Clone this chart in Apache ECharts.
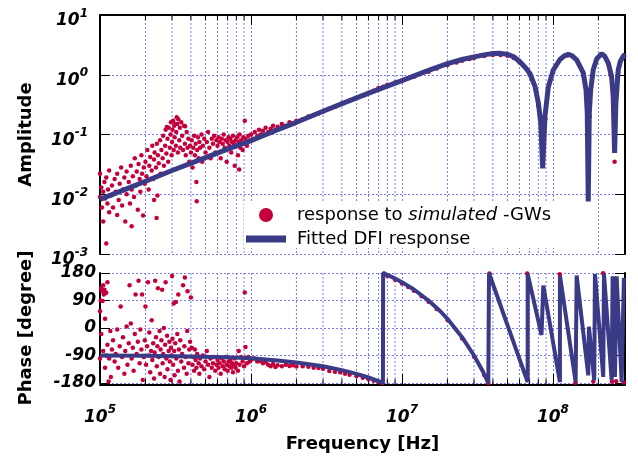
<!DOCTYPE html>
<html>
<head>
<meta charset="utf-8">
<script src="https://cdn.jsdelivr.net/npm/echarts/dist/echarts.min.js"></script>
<style>
html,body{margin:0;padding:0;background:#fff;}
#chart{width:638px;height:457px;}
</style>
</head>
<body>
<div id="chart"></div>
<script>
// ---------------- data ----------------
const legendNames = ['response to simulated -GWs', 'Fitted DFI response'];
const xTickFreqs = [1e5, 1e6, 1e7, 1e8];
const minorFreqs = [2e5,3e5,4e5,5e5,6e5,7e5,8e5,9e5,2e6,3e6,4e6,5e6,6e6,7e6,8e6,9e6,2e7,3e7,4e7,5e7,6e7,7e7,8e7,9e7,2e8];
const phaseTicks = [-180, -90, 0, 90, 180];

// measured amplitude (red dots)
const ampDots = [
[1.0e5,0.022],[1.0e5,0.009],[1.02e5,0.013],[1.03e5,0.006],[1.05e5,0.0035],[1.05e5,0.011],[1.07e5,0.016],[1.08e5,0.0085],[1.1e5,0.0015],[1.1e5,0.019],[1.12e5,0.007],[1.13e5,0.012],[1.15e5,0.025],[1.15e5,0.005],[1.18e5,0.0095],[1.2e5,0.014],
[1.22e5,0.006],[1.25e5,0.018],[1.27e5,0.011],[1.3e5,0.0045],[1.3e5,0.022],[1.33e5,0.008],[1.35e5,0.015],[1.38e5,0.028],[1.4e5,0.0065],[1.42e5,0.012],[1.45e5,0.019],[1.47e5,0.0035],[1.5e5,0.024],[1.5e5,0.01],
[1.55e5,0.016],[1.58e5,0.007],[1.6e5,0.03],[1.62e5,0.0029],[1.62e5,0.012],[1.65e5,0.02],[1.68e5,0.009],[1.7e5,0.04],[1.72e5,0.014],[1.75e5,0.024],[1.78e5,0.0055],[1.8e5,0.032],[1.83e5,0.018],[1.85e5,0.011],[1.88e5,0.045],[1.9e5,0.022],[1.93e5,0.0044],[1.95e5,0.028],[1.98e5,0.015],
[2.0e5,0.035],[2.03e5,0.02],[2.06e5,0.055],[2.1e5,0.012],[2.12e5,0.03],[2.15e5,0.042],[2.2e5,0.025],[2.22e5,0.065],[2.25e5,0.018],[2.28e5,0.008],[2.28e5,0.038],[2.3e5,0.05],[2.35e5,0.028],[2.37e5,0.004],[2.38e5,0.07],[2.4e5,0.0095],[2.42e5,0.045],[2.45e5,0.033],[2.5e5,0.08],[2.52e5,0.022],[2.55e5,0.055],[2.6e5,0.04],[2.62e5,0.095],[2.65e5,0.03],[2.7e5,0.065],[2.72e5,0.12],[2.75e5,0.048],[2.77e5,0.134],[2.8e5,0.085],[2.83e5,0.035],[2.85e5,0.13],[2.9e5,0.06],[2.93e5,0.1],[2.95e5,0.16],[2.98e5,0.045],
[3.0e5,0.075],[3.02e5,0.12],[3.05e5,0.17],[3.08e5,0.055],[3.1e5,0.14],[3.12e5,0.09],[3.15e5,0.15],[3.18e5,0.065],[3.22e5,0.194],[3.2e5,0.11],[3.25e5,0.15],[3.28e5,0.05],[3.3e5,0.18],[3.35e5,0.08],[3.38e5,0.13],[3.4e5,0.06],[3.45e5,0.16],[3.5e5,0.095],[3.55e5,0.055],[3.6e5,0.14],[3.66e5,0.137],[3.65e5,0.07],[3.7e5,0.045],[3.75e5,0.11],[3.8e5,0.06],[3.85e5,0.085],[3.9e5,0.035],[3.95e5,0.065],
[4.0e5,0.05],[4.05e5,0.08],[4.1e5,0.028],[4.15e5,0.06],[4.2e5,0.095],[4.25e5,0.045],[4.3e5,0.07],[4.35e5,0.016],[4.37e5,0.0076],[4.4e5,0.055],[4.45e5,0.09],[4.5e5,0.04],[4.55e5,0.075],[4.6e5,0.06],[4.7e5,0.1],[4.75e5,0.035],[4.8e5,0.065],[4.9e5,0.085],[5.0e5,0.05],[5.1e5,0.075],[5.2e5,0.11],[5.3e5,0.06],[5.4e5,0.04],[5.5e5,0.085],[5.6e5,0.07],[5.7e5,0.095],[5.8e5,0.05],[5.9e5,0.08],
[6.0e5,0.065],[6.1e5,0.09],[6.2e5,0.075],[6.3e5,0.04],[6.4e5,0.085],[6.5e5,0.07],[6.6e5,0.1],[6.7e5,0.06],[6.8e5,0.08],[6.9e5,0.035],[7.0e5,0.075],[7.1e5,0.09],[7.2e5,0.065],[7.3e5,0.085],[7.4e5,0.05],[7.5e5,0.075],[7.6e5,0.095],[7.7e5,0.07],[7.8e5,0.03],[7.9e5,0.08],[8.0e5,0.065],[8.1e5,0.09],[8.2e5,0.045],[8.3e5,0.075],[8.35e5,0.026],[8.4e5,0.1],[8.5e5,0.06],[8.6e5,0.08],[8.8e5,0.055],[8.9e5,0.09],[9.1e5,0.17],[9.0e5,0.07],[9.2e5,0.085],[9.4e5,0.065],[9.6e5,0.095],[9.8e5,0.08],
[1.0e6,0.1],[1.03e6,0.085],[1.06e6,0.11],[1.1e6,0.095],[1.13e6,0.12],[1.16e6,0.1],[1.2e6,0.115],[1.25e6,0.13],[1.3e6,0.11],[1.35e6,0.125],[1.4e6,0.14],[1.45e6,0.12],[1.5e6,0.135],[1.6e6,0.15],[1.7e6,0.14],[1.8e6,0.16],[1.9e6,0.155],[2.0e6,0.17],[2.2e6,0.18],[2.4e6,0.2],[2.6e6,0.21],[2.8e6,0.225],[3.0e6,0.24],
[3.3e6,0.27],[3.6e6,0.29],[4.0e6,0.33],[4.5e6,0.37],[5.0e6,0.41],[5.5e6,0.45],[6.0e6,0.5],[6.5e6,0.54],[7.0e6,0.6],[7.5e6,0.63],[8.0e6,0.68],[9.0e6,0.74],[1.0e7,0.8],
[1.2e7,0.93],[1.5e7,1.12],[1.7e7,1.27],[2.0e7,1.45],[2.3e7,1.6],[2.5e7,1.72],[2.8e7,1.83],[3.0e7,1.9],[3.5e7,2.05],[4.0e7,2.15],[4.5e7,2.15],[5.0e7,2.08],[5.5e7,1.9],[6.0e7,1.6],[7.0e7,1.0],[8.0e7,0.3],[8.9e7,0.18],[1.0e8,1.1],[1.25e8,2.1],[1.6e8,0.95],[1.75e8,0.2],[2.1e8,2.2],[2.4e8,1.0],[2.56e8,0.035],[2.7e8,1.1],[2.95e8,2.1]
];

// fitted amplitude (blue line)
const ampFit = [
[1e5,0.0082],[1.5e5,0.0123],[2e5,0.0165],[3e5,0.025],[5e5,0.041],[7e5,0.057],[1e6,0.079],[1.5e6,0.12],[2e6,0.16],[3e6,0.245],[5e6,0.41],[7e6,0.57],[1e7,0.8],[1.5e7,1.18],[2e7,1.53],[2.5e7,1.8],[3e7,1.99],[3.5e7,2.15],[4e7,2.26],[4.5e7,2.28],[5e7,2.2],[5.5e7,2.0],[6.04e7,1.65],[6.6e7,1.3],[7.04e7,1.05],[7.6e7,0.64],[8.0e7,0.34],[8.3e7,0.158],[8.55e7,0.027],[8.85e7,0.2],[9.31e7,0.62],[1.005e8,1.2],[1.112e8,1.8],[1.2e8,2.1],[1.262e8,2.2],[1.33e8,2.1],[1.435e8,1.78],[1.588e8,1.07],[1.655e8,0.56],[1.687e8,0.23],[1.713e8,0.0076],[1.74e8,0.23],[1.778e8,0.56],[1.849e8,1.21],[1.95e8,1.85],[2.10e8,2.25],[2.2e8,2.05],[2.325e8,1.57],[2.445e8,0.94],[2.505e8,0.43],[2.56e8,0.049],[2.61e8,0.33],[2.705e8,1.21],[2.8e8,1.7],[2.92e8,2.03],[3.0e8,2.2]
];

// measured phase (red dots)
const phaseDots = [
[1.0e5,55],[1.0e5,-100],[1.01e5,90],[1.02e5,130],[1.02e5,-20],[1.03e5,120],[1.04e5,88],[1.05e5,140],[1.05e5,-75],[1.06e5,110],[1.07e5,125],[1.08e5,30],[1.08e5,-130],[1.1e5,115],[1.1e5,-90],[1.12e5,150],[1.12e5,-55],[1.14e5,-175],[1.15e5,-100],[1.17e5,-10],[1.18e5,-160],[1.2e5,-70],
[1.22e5,-40],[1.25e5,-110],[1.27e5,-85],[1.3e5,-5],[1.32e5,-130],[1.35e5,-60],[1.37e5,70],[1.4e5,-95],[1.42e5,-30],[1.45e5,-150],[1.47e5,-75],[1.5e5,5],[1.52e5,-120],[1.55e5,-50],[1.57e5,140],[1.6e5,15],[1.62e5,-100],[1.65e5,-65],[1.67e5,-140],[1.7e5,-20],[1.72e5,110],[1.75e5,-85],[1.78e5,-45],[1.8e5,155],[1.83e5,-115],[1.85e5,-5],[1.88e5,-70],[1.9e5,110],[1.92e5,-170],[1.95e5,-95],[1.98e5,-40],
[2.0e5,70],[2.02e5,-120],[2.05e5,-60],[2.08e5,150],[2.1e5,-90],[2.12e5,-15],[2.15e5,-145],[2.18e5,-75],[2.2e5,25],[2.22e5,-105],[2.25e5,-50],[2.28e5,-165],[2.3e5,-80],[2.32e5,155],[2.35e5,-30],[2.38e5,-125],[2.4e5,-60],[2.42e5,130],[2.45e5,-95],[2.48e5,-10],[2.5e5,-150],[2.52e5,-70],[2.55e5,-40],[2.58e5,125],[2.6e5,-115],[2.62e5,-85],[2.65e5,0],[2.68e5,-160],[2.7e5,-55],[2.72e5,150],[2.75e5,-100],[2.78e5,-25],[2.8e5,-135],[2.85e5,-75],[2.88e5,-45],[2.9e5,-110],[2.93e5,-170],[2.95e5,-65],[2.98e5,-90],
[3.0e5,170],[3.02e5,-35],[3.05e5,-120],[3.08e5,80],[3.1e5,-75],[3.12e5,-155],[3.15e5,-50],[3.18e5,85],[3.2e5,-100],[3.25e5,-20],[3.28e5,-140],[3.3e5,110],[3.33e5,-70],[3.36e5,-175],[3.4e5,-40],[3.45e5,-110],[3.5e5,-85],[3.55e5,140],[3.6e5,-130],[3.62e5,-60],[3.65e5,165],[3.7e5,-95],[3.75e5,-150],[3.78e5,-10],[3.8e5,120],[3.85e5,-115],[3.9e5,-70],[3.95e5,-45],[4.0e5,100],
[4.05e5,-65],[4.1e5,-120],[4.15e5,-95],[4.2e5,-140],[4.25e5,-70],[4.3e5,-105],[4.35e5,-130],[4.4e5,-85],[4.5e5,-115],[4.55e5,-150],[4.6e5,-100],[4.7e5,-125],[4.8e5,-90],[4.9e5,-135],[5.0e5,-110],[5.1e5,-75],[5.2e5,-120],[5.3e5,-160],[5.4e5,-100],[5.5e5,-130],[5.6e5,-115],[5.7e5,-95],[5.8e5,-140],[5.9e5,-120],[6.0e5,-105],[6.1e5,-130],[6.2e5,-115],[6.3e5,-150],[6.4e5,-100],[6.5e5,-125],[6.6e5,-110],[6.7e5,-135],[6.8e5,-95],[6.9e5,-120],[7.0e5,-140],[7.1e5,-110],[7.2e5,-125],[7.3e5,-105],[7.4e5,-130],[7.5e5,-115],[7.6e5,-145],[7.7e5,-120],[7.8e5,-100],[7.9e5,-130],[8.0e5,-115],[8.2e5,-140],[8.3e5,-75],[8.4e5,-120],[9.1e5,116],[8.6e5,-95],[8.8e5,-110],[9.0e5,-125],[9.2e5,-62],[9.4e5,-115],[9.6e5,-95],[9.8e5,-110],
[1.0e6,-105],[1.05e6,-100],[1.1e6,-110],[1.15e6,-108],[1.2e6,-115],[1.25e6,-112],[1.3e6,-120],[1.35e6,-125],[1.4e6,-118],[1.45e6,-128],[1.5e6,-122],[1.6e6,-125],[1.7e6,-120],[1.8e6,-124],[1.9e6,-122],[2.0e6,-126],[2.2e6,-125],[2.4e6,-127],[2.6e6,-130],[2.8e6,-131],[3.0e6,-133],[3.3e6,-141],[3.6e6,-143],[3.9e6,-145],[4.2e6,-150],[4.5e6,-153],[5.0e6,-158],[5.5e6,-163],[6.0e6,-168],[6.5e6,-173],[7.0e6,-177],[7.4e6,-180],
[7.6e6,178],[8.0e6,170],[9.0e6,158],[1.0e7,146],[1.1e7,134],[1.2e7,122],[1.35e7,104],[1.5e7,86],[1.7e7,62],[2.0e7,26],[2.5e7,-34],[3.0e7,-94],[3.5e7,-154],[3.73e7,-180],[3.8e7,178],[6.75e7,178],[1.11e8,176],[1.41e8,-179],[1.85e8,-175],[2.15e8,179],[2.46e8,-176],[2.62e8,-174],[2.95e8,-178]
];

// fitted phase (blue line)
const phaseFit = [
[1e5,-90],[2e5,-91],[4e5,-93],[7e5,-96],[1e6,-99],[1.5e6,-106],[2e6,-113],[3e6,-125],[4e6,-138],[5e6,-150],[6e6,-162],[7e6,-174],[7.48e6,-180],[7.5e6,180],[8e6,174],[9e6,162],[1e7,150],[1.2e7,126],[1.5e7,90],[1.8e7,54],[2e7,30],[2.5e7,-30],[3e7,-90],[3.4e7,-138],[3.73e7,-180],[3.77e7,180],[6.8e7,-177],[6.8e7,177],[8.4e7,-23],[8.63e7,139],[1.112e8,-177],[1.112e8,172],[1.413e8,-177],[1.435e8,172],[1.713e8,-155],[1.73e8,4],[1.877e8,-171],[1.897e8,177],[2.153e8,-160],[2.177e8,177],[2.448e8,-171],[2.485e8,169],[2.572e8,-160],[2.64e8,169],[2.85e8,-177],[2.95e8,164]
];

// ---------------- style ----------------
const FONT = 'DejaVu Sans';
const RED = '#c4003c';
const BLUE = '#3a3a86';
const GRIDC = '#7a7af2';

const richSup = {
  b: {fontFamily: FONT, fontWeight: 'bold', fontStyle: 'italic', fontSize: 17, color: '#000', padding: [12, 0, 0, 0], verticalAlign: 'top'},
  s: {fontFamily: FONT, fontWeight: 'bold', fontStyle: 'italic', fontSize: 12, color: '#000', padding: [7, 0, 0, 0], verticalAlign: 'top'}
};
function logFmt(v) {
  const e = Math.log10(v);
  const r = Math.round(e);
  if (Math.abs(e - r) > 1e-6) return '';
  return '{b|10}{s|' + r + '}';
}
const dashLine = {show: true, lineStyle: {color: GRIDC, width: 1, type: [2, 2]}};
const nameStyle = {fontFamily: FONT, fontWeight: 'bold', fontSize: 18, color: '#000'};
const blackLine = {show: true, onZero: false, lineStyle: {color: '#000', width: 2}};

function minorRender(isTop) {
  return function (params, api) {
    const f = api.value(0);
    const pt = api.coord([f, api.value(1)]);
    const cs = params.coordSys;
    const x = pt[0];
    const ch = [{type: 'line', shape: {x1: x, y1: cs.y, x2: x, y2: cs.y + cs.height},
      style: {stroke: GRIDC, lineWidth: 1, lineDash: [2, 2]}}];
    if (isTop) {
      ch.push({type: 'line', shape: {x1: x, y1: cs.y, x2: x, y2: cs.y + 5}, style: {stroke: '#000', lineWidth: 1}});
    } else {
      const yb = cs.y + cs.height + 2;
      ch.push({type: 'line', shape: {x1: x, y1: yb, x2: x, y2: yb - 6}, style: {stroke: '#000', lineWidth: 1}});
    }
    return {type: 'group', children: ch};
  };
}

const chart = echarts.init(document.getElementById('chart'), null, {renderer: 'canvas'});
chart.setOption({
  animation: false,
  backgroundColor: '#fff',
  grid: [
    {left: 100, right: 13, top: 15, height: 239},
    {left: 100, right: 13, top: 273, height: 110}
  ],
  legend: {
    left: 244, top: 201, orient: 'vertical', selectedMode: false,
    backgroundColor: '#fff', padding: [5, 8, 0, 2], itemGap: 6,
    itemWidth: 40, itemHeight: 14,
    itemStyle: {borderWidth: 0, opacity: 1},
    data: [
      {name: legendNames[0], icon: 'circle', itemStyle: {color: RED, opacity: 1}},
      {name: legendNames[1], icon: 'path://M0,0L0,0M0,3.5L40,3.5L40,10.5L0,10.5ZM0,14L0,14', itemStyle: {color: BLUE, opacity: 1}}
    ],
    formatter: function (n) {
      if (n === legendNames[0]) return '{n|response to }{i|simulated}{n| -GWs}';
      return '{n|' + n + '}';
    },
    textStyle: {
      padding: [0, 0, 0, 6],
      rich: {
        n: {fontFamily: FONT, fontSize: 18, color: '#000', lineHeight: 20},
        i: {fontFamily: FONT, fontSize: 18, fontStyle: 'italic', color: '#000', lineHeight: 20}
      }
    }
  },
  xAxis: [
    {gridIndex: 0, type: 'log', logBase: 10, min: 1e5, max: 3e8, position: 'top',
     axisLine: blackLine, axisTick: {show: true, inside: true, length: 10, lineStyle: {color: '#000', width: 1}},
     axisLabel: {show: false}, splitLine: dashLine, minorTick: {show: false}},
    {gridIndex: 1, type: 'log', logBase: 10, min: 1e5, max: 3e8, position: 'bottom', offset: 2,
     axisLine: blackLine, axisTick: {show: true, inside: true, length: 11, lineStyle: {color: '#000', width: 1}},
     axisLabel: {formatter: logFmt, margin: 12, rich: richSup},
     splitLine: dashLine,
     name: 'Frequency [Hz]', nameLocation: 'middle', nameGap: 50, nameTextStyle: nameStyle}
  ],
  yAxis: [
    {gridIndex: 0, type: 'log', logBase: 10, min: 1e-3, max: 10, position: 'left',
     axisLine: blackLine, axisTick: {show: true, inside: true, length: 10, lineStyle: {color: '#000', width: 1}},
     axisLabel: {formatter: logFmt, margin: 12, rich: richSup},
     splitLine: dashLine,
     name: 'Amplitude', nameLocation: 'middle', nameGap: 65, nameRotate: 90, nameTextStyle: nameStyle},
    {gridIndex: 0, type: 'log', logBase: 10, min: 1e-3, max: 10, position: 'right',
     axisLine: blackLine, axisTick: {show: true, inside: true, length: 10, lineStyle: {color: '#000', width: 1}},
     axisLabel: {show: false}, splitLine: {show: false}},
    {gridIndex: 1, type: 'value', min: phaseTicks[0], max: phaseTicks[phaseTicks.length - 1], interval: 90, position: 'left',
     axisLine: blackLine, axisTick: {show: true, inside: true, length: 10, lineStyle: {color: '#000', width: 1}},
     axisLabel: {margin: 4, fontFamily: FONT, fontWeight: 'bold', fontStyle: 'italic', fontSize: 17, color: '#000'},
     splitLine: dashLine,
     name: 'Phase [degree]', nameLocation: 'middle', nameGap: 65, nameRotate: 90, nameTextStyle: nameStyle},
    {gridIndex: 1, type: 'value', min: phaseTicks[0], max: phaseTicks[phaseTicks.length - 1], interval: 90, position: 'right',
     axisLine: blackLine, axisTick: {show: true, inside: true, length: 10, lineStyle: {color: '#000', width: 1}},
     axisLabel: {show: false}, splitLine: {show: false}}
  ],
  series: [
    {type: 'custom', xAxisIndex: 0, yAxisIndex: 0, silent: true, z: 1,
     renderItem: minorRender(true), data: minorFreqs.map(function (f) { return [f, 1]; })},
    {type: 'custom', xAxisIndex: 1, yAxisIndex: 2, silent: true, z: 1,
     renderItem: minorRender(false), data: minorFreqs.map(function (f) { return [f, 0]; })},
    {name: legendNames[0], type: 'scatter', xAxisIndex: 0, yAxisIndex: 0, data: ampDots,
     symbol: 'circle', symbolSize: 4.5, itemStyle: {color: RED, opacity: 1}, z: 3},
    {name: legendNames[1], type: 'line', xAxisIndex: 0, yAxisIndex: 0, data: ampFit,
     symbol: 'none', showSymbol: false, lineStyle: {color: BLUE, width: 5}, itemStyle: {color: BLUE}, z: 4},
    {name: legendNames[0], type: 'scatter', xAxisIndex: 1, yAxisIndex: 2, data: phaseDots,
     symbol: 'circle', symbolSize: 4.5, itemStyle: {color: RED, opacity: 1}, z: 3},
    {name: legendNames[1], type: 'line', xAxisIndex: 1, yAxisIndex: 2, data: phaseFit,
     symbol: 'none', showSymbol: false, lineStyle: {color: BLUE, width: 4}, itemStyle: {color: BLUE}, z: 4}
  ]
});
</script>
</body>
</html>
